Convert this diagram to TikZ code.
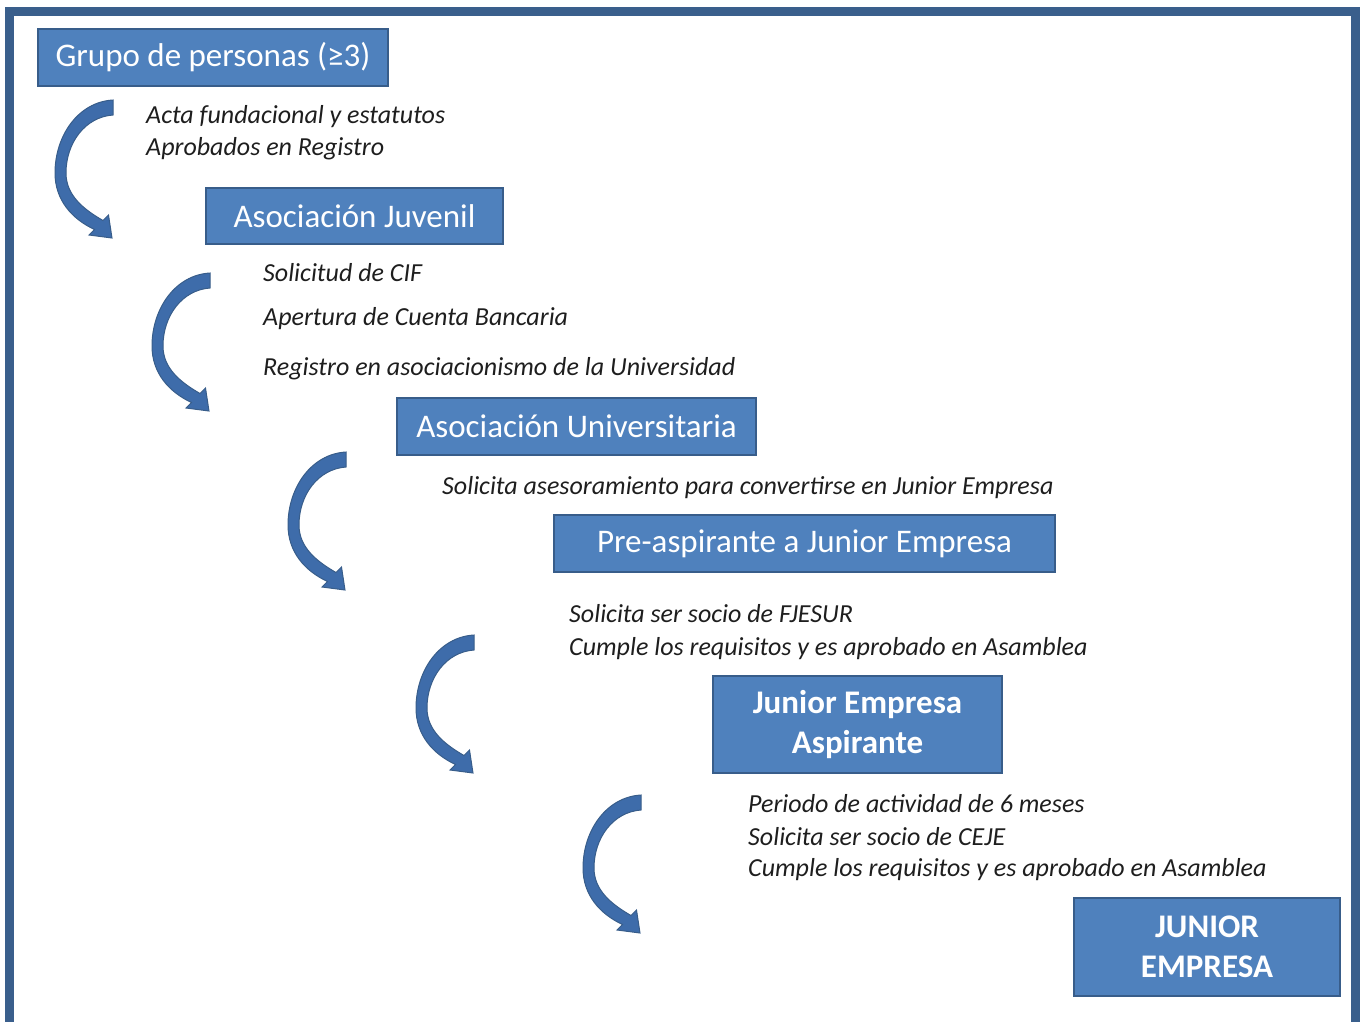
\documentclass[tikz,border=0pt]{standalone}
\usepackage{fontspec}
\setmainfont{Carlito}
\usepackage{tikz}
\definecolor{boxblue}{RGB}{79,129,189}
\definecolor{boxline}{RGB}{56,93,138}
\definecolor{arrowblue}{RGB}{62,108,170}
\definecolor{framecol}{RGB}{58,95,140}
\definecolor{txtgray}{RGB}{30,30,30}
\tikzset{
  stage/.style={draw=boxline, line width=2, fill=boxblue, text=white,
    font=\fontsize{33}{40}\selectfont, inner sep=0pt, align=center},
  stagebf/.style={stage, font=\fontsize{33}{40}\selectfont\bfseries},
  note/.style={anchor=base west, inner sep=0pt, text=txtgray,
    font=\fontsize{26}{30}\selectfont\itshape},
  curvarrow/.pic={
    \filldraw[fill=arrowblue, draw=boxline, line width=1]
      (0,-1) .. controls (-35,1) and (-58,35) .. (-58,72)
      .. controls (-58,99) and (-41,118) .. (-18.5,128.5)
      -- (-24,134) -- (-1,137) -- (-4.5,114) -- (-10,119.5)
      .. controls (-30,108) and (-47,94) .. (-47,72)
      .. controls (-47,42) and (-28,16) .. (0,14) -- cycle;
  }
}
\begin{document}
\begin{tikzpicture}[x=1pt, y=-1pt]
      \useasboundingbox (0,0) rectangle (1365,1021);
      \draw[framecol, line width=9] (9,11) rectangle (1355,1026);
      % stages
      \node[stage, minimum width=350, minimum height=57] (grupo) at (213,57.5) {Grupo de personas (≥3)};
      \node[stage, minimum width=297, minimum height=56] (juvenil) at (354.5,216) {Asociación Juvenil};
      \node[stage, minimum width=359, minimum height=57] (univ) at (576.5,426.5) {Asociación Universitaria};
      \node[stage, minimum width=501, minimum height=57] (preasp) at (804.5,543.5) {Pre-aspirante a Junior Empresa};
      \node[stagebf, minimum width=289, minimum height=97] (aspir) at (857.5,724.5) {Junior Empresa\\Aspirante};
      \node[stagebf, minimum width=266, minimum height=98] (junior) at (1207,947) {JUNIOR\\EMPRESA};
      % arrows
      \coordinate (a1) at (113,101);
      \coordinate (a2) at (210,274);
      \coordinate (a3) at (346,453);
      \coordinate (a4) at (474,636);
      \coordinate (a5) at (641,796);
      \foreach \a in {a1,a2,a3,a4,a5}
        \pic at (\a) {curvarrow};
      % notes
      \node[note] (n1a) at (146,123) {Acta fundacional y estatutos};
      \node[note] (n1b) at (146,155) {Aprobados en Registro};
      \node[note] (n2a) at (263,281) {Solicitud de CIF};
      \node[note] (n2b) at (263,325) {Apertura de Cuenta Bancaria};
      \node[note] (n2c) at (263,375) {Registro en asociacionismo de la Universidad};
      \node[note] (n3a) at (442,494) {Solicita asesoramiento para convertirse en Junior Empresa};
      \node[note] (n4a) at (569,622) {Solicita ser socio de FJESUR};
      \node[note] (n4b) at (569,655) {Cumple los requisitos y es aprobado en Asamblea};
      \node[note] (n5a) at (748,812) {Periodo de actividad de 6 meses};
      \node[note] (n5b) at (748,845) {Solicita ser socio de CEJE};
      \node[note] (n5c) at (748,876) {Cumple los requisitos y es aprobado en Asamblea};
\end{tikzpicture}
\end{document}
